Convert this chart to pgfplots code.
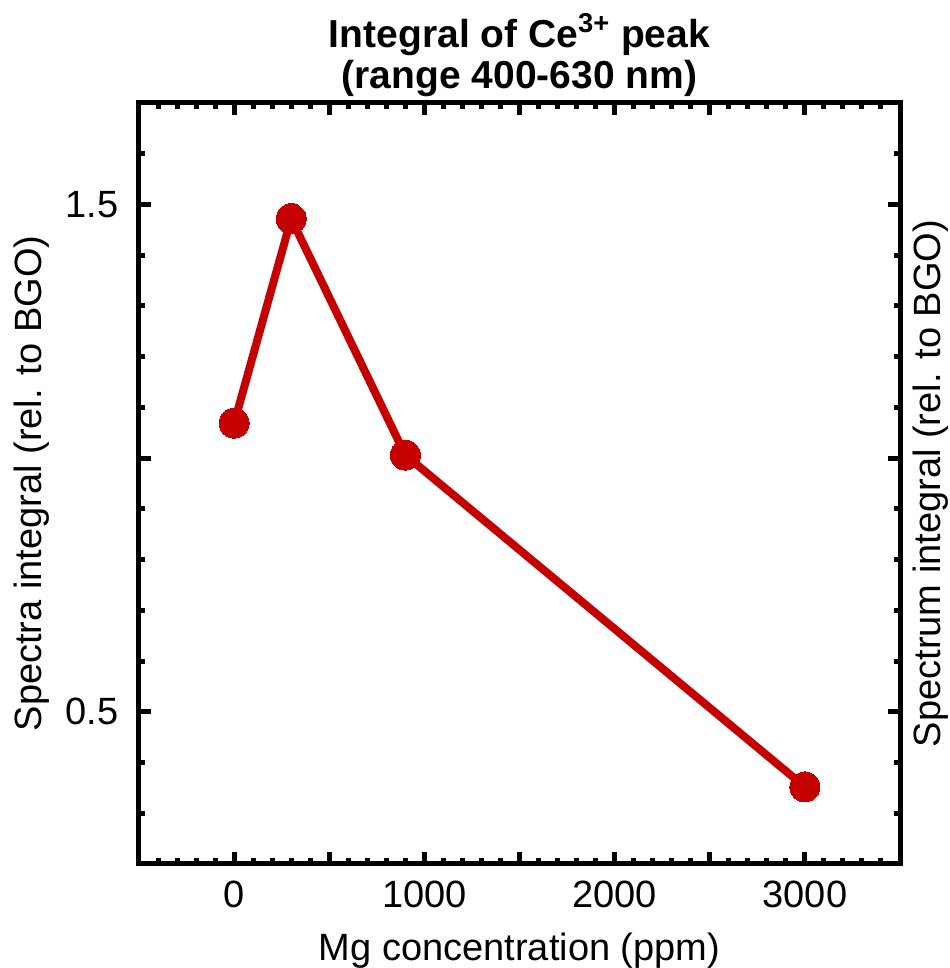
\documentclass[border=0pt]{standalone}
\usepackage{pgfplots}
\pgfplotsset{compat=1.18}
\usepackage{fontspec}
\setmainfont{Liberation Sans}
\definecolor{dred}{RGB}{196,0,0}
\begin{document}
\begin{tikzpicture}
\useasboundingbox (-69.5pt,-52pt) rectangle (405pt,432pt);
\begin{axis}[
  at={(0pt,0pt)}, anchor=south west,
  scale only axis,
  width=380.5pt, height=380.5pt,
  xmin=-500, xmax=3500, ymin=0.2, ymax=1.7,
  xtick={-500,0,...,3500},
  xticklabels={,0,,1000,,2000,,3000,},
  minor x tick num=4,
  ytick={0,0.5,1,1.5,2},
  yticklabels={,0.5,,1.5,},
  minor y tick num=4,
  tick align=inside,
  major tick length=6pt,
  minor tick length=3pt,
  every tick/.style={line width=2.5pt, black},
  axis line style={line width=2.5pt},
  /pgf/number format/assume math mode=true,
  font=\fontsize{19}{20.5}\selectfont,
  ticklabel style={font=\fontsize{19}{20.5}\selectfont},
  xticklabel style={anchor=base, inner sep=0pt, yshift=-22pt},
  yticklabel style={anchor=east, inner sep=0pt, xshift=-10pt},
  every axis title shift/.style={yshift=0pt},
  title={Integral of Ce\textsuperscript{3+} peak\\(range 400-630 nm)},
  title style={at={(axis description cs:0.5,1)}, anchor=south, inner sep=0pt, yshift=-3pt, align=center, font=\fontsize{19.5}{20.5}\selectfont\bfseries},
  xlabel={Mg concentration (ppm)},
  ylabel={Spectra integral (rel. to BGO)},
  xlabel style={at={(axis description cs:0.5,0)}, anchor=base, inner sep=0pt, yshift=-48pt},
  ylabel style={at={([xshift=-53.5pt]axis description cs:0,0.5)}, anchor=center, inner sep=0pt, rotate=0},
  clip=false,
]
\addplot[color=dred, line width=4pt, mark=*, mark size=7.5pt, mark options={fill=dred, draw=dred, line width=0pt}]
  coordinates {(0,1.069) (300,1.472) (900,1.006) (3000,0.352)};
\node[rotate=90, anchor=center, inner sep=0pt, font=\fontsize{19}{20.5}\selectfont] at ([xshift=15.5pt]rel axis cs:1,0.5) {Spectrum integral (rel. to BGO)};
\end{axis}
\end{tikzpicture}
\end{document}
